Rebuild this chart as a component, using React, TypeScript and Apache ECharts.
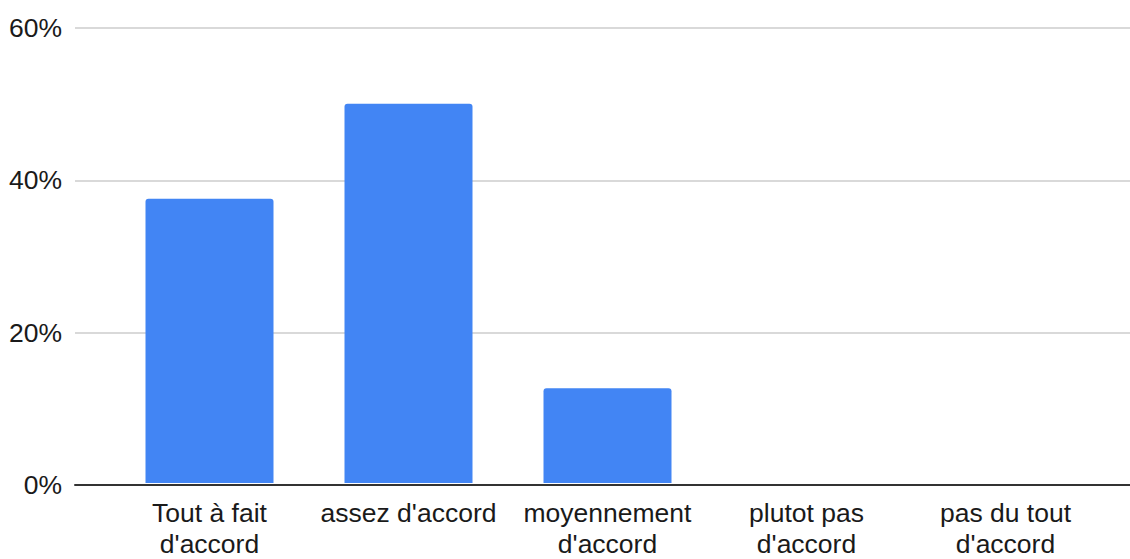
import React, { useEffect, useRef } from "react";
import * as echarts from "echarts";

const categories = [
  "Tout à fait d'accord",
  "assez d'accord",
  "moyennement d'accord",
  "plutot pas d'accord",
  "pas du tout d'accord",
];
const values = [37.5, 50, 12.5, 0, 0];
const yMin = 0;
const yMax = 60;
const yInterval = 20;

const FONT = "'Liberation Sans', Arial, sans-serif";

function wrapLabel(v: string): string {
  return v.length > 15 ? v.replace(/ (?=[^ ]*$)/, "\n") : v;
}

export default function App() {
  const ref = useRef<HTMLDivElement>(null);
  useEffect(() => {
    if (!ref.current) return;
    const chart = echarts.init(ref.current, undefined, { renderer: "svg" });
    chart.setOption({
      animation: false,
      backgroundColor: "#ffffff",
      grid: [
        { left: 75, right: 0, top: 28, bottom: 74 },
        { left: 110, right: 25, top: 28, bottom: 74 },
      ],
      xAxis: [
        {
          type: "category",
          gridIndex: 0,
          data: categories,
          axisLine: { show: true, lineStyle: { color: "#333333", width: 2 } },
          axisTick: { show: false },
          axisLabel: { show: false },
          splitLine: { show: false },
        },
        {
          type: "category",
          gridIndex: 1,
          data: categories,
          axisLine: { show: false },
          axisTick: { show: false },
          axisLabel: {
            color: "#1a1a1a",
            fontSize: 26.5,
            fontFamily: FONT,
            lineHeight: 31,
            margin: 14,
            interval: 0,
            align: "center",
            formatter: wrapLabel,
          },
        },
      ],
      yAxis: [
        {
          type: "value",
          gridIndex: 0,
          min: yMin,
          max: yMax,
          interval: yInterval,
          axisLine: { show: false },
          axisTick: { show: false },
          axisLabel: {
            formatter: "{value}%",
            color: "#1a1a1a",
            fontSize: 26.5,
            fontFamily: FONT,
            margin: 13,
          },
          splitLine: { show: true, lineStyle: { color: "#cccccc", width: 1.5 } },
        },
        {
          type: "value",
          gridIndex: 1,
          min: yMin,
          max: yMax,
          interval: yInterval,
          show: false,
          splitLine: { show: false },
        },
      ],
      series: [
        {
          type: "bar",
          xAxisIndex: 1,
          yAxisIndex: 1,
          data: values,
          barWidth: 128,
          itemStyle: { color: "#4285F4", borderRadius: [3, 3, 0, 0] },
        },
      ],
    });
    return () => chart.dispose();
  }, []);
  return (
    <div
      ref={ref}
      style={{ position: "absolute", left: 0, top: 0, width: 1130, height: 559 }}
    />
  );
}
